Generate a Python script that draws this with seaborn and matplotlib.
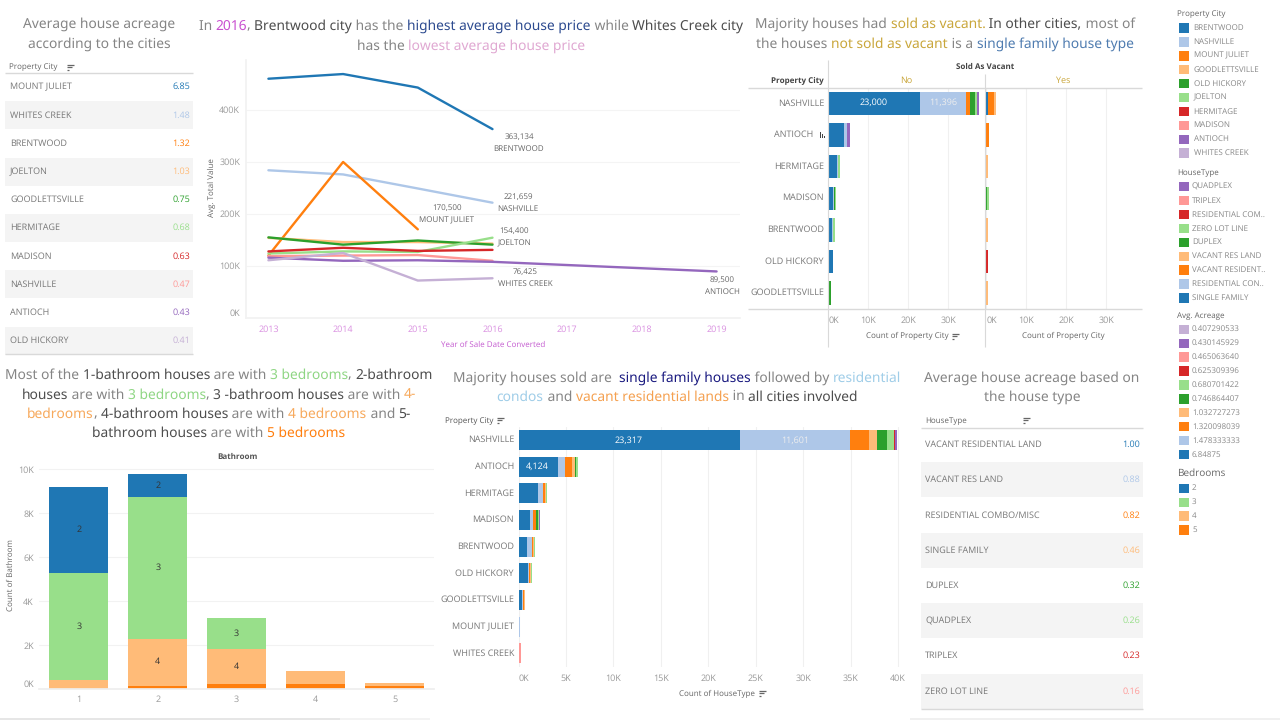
import matplotlib
matplotlib.use("Agg")
import matplotlib.pyplot as plt
from matplotlib.patches import Rectangle
from matplotlib.font_manager import FontProperties
import pandas as pd
import seaborn as sns

# ---------- palette ----------
BLUE, LBLUE, ORANGE, LORANGE = "#1f77b4", "#aec7e8", "#ff7f0e", "#ffbb78"
GREEN, LGREEN, RED, PINK = "#2ca02c", "#98df8a", "#d62728", "#ff9896"
PURPLE, LPURPLE = "#9467bd", "#c5b0d5"
tab10pairs = [BLUE, LBLUE, ORANGE, LORANGE, GREEN, LGREEN, RED, PINK, PURPLE, LPURPLE]
GREY, DARK, TXT = "#858585", "#4d4d4d", "#777777"

# ---------- data: average acreage tables ----------
city_table_names = ["MOUNT JULIET", "WHITES CREEK", "BRENTWOOD", "JOELTON", "GOODLETTSVILLE",
                    "HERMITAGE", "MADISON", "NASHVILLE", "ANTIOCH", "OLD HICKORY"]
city_table_values = ["6.85", "1.48", "1.32", "1.03", "0.75", "0.68", "0.63", "0.47", "0.43", "0.41"]
type_table_names = ["VACANT RESIDENTIAL LAND", "VACANT RES LAND", "RESIDENTIAL COMBO/MISC", "SINGLE FAMILY",
                    "DUPLEX", "QUADPLEX", "TRIPLEX", "ZERO LOT LINE"]
type_table_values = ["1.00", "0.88", "0.82", "0.46", "0.32", "0.26", "0.23", "0.16"]

# ---------- data: average value by year ----------
years = [2013, 2014, 2015, 2016, 2017, 2018, 2019]
N = None
line_brentwood = [460000, 469000, 443000, 363134, N, N, N]
line_nashville = [284000, 276000, 249000, 221659, N, N, N]
line_mtjuliet = [120000, 300000, 170500, N, N, N, N]
line_goodletts = [154000, 146000, 146000, 143000, N, N, N]
line_oldhickory = [155000, 141000, 149000, 141000, N, N, N]
line_joelton = [124000, 128000, 127000, 154400, N, N, N]
line_hermitage = [128000, 135000, 129000, 131000, N, N, N]
line_madison = [119000, 120000, 121000, 110000, N, N, N]
line_antioch = [116000, 110000, 111000, 108000, N, N, 89500]
line_whites = [111000, 125000, 72000, 76425, N, N, N]
line_cities = ["BRENTWOOD", "NASHVILLE", "MOUNT JULIET", "GOODLETTSVILLE", "OLD HICKORY",
               "JOELTON", "HERMITAGE", "MADISON", "ANTIOCH", "WHITES CREEK"]
line_series = [line_brentwood, line_nashville, line_mtjuliet, line_goodletts, line_oldhickory,
               line_joelton, line_hermitage, line_madison, line_antioch, line_whites]
value_ticks = [0, 100000, 200000, 300000, 400000]
value_tick_labels = ["0K", "100K", "200K", "300K", "400K"]

# ---------- data: sold as vacant ----------
vac_cities = ["NASHVILLE", "ANTIOCH", "HERMITAGE", "MADISON", "BRENTWOOD", "OLD HICKORY", "GOODLETTSVILLE"]
type_order = ["SINGLE FAMILY", "RESIDENTIAL CONDO", "VACANT RESIDENTIAL", "VACANT RES LAND", "DUPLEX",
              "ZERO LOT LINE", "RESIDENTIAL COMBO", "TRIPLEX", "QUADPLEX"]
type_colors = [BLUE, LBLUE, ORANGE, LORANGE, GREEN, LGREEN, RED, PINK, PURPLE]
no_counts = {
    "SINGLE FAMILY": [23000, 4000, 2080, 1250, 900, 1150, 250],
    "RESIDENTIAL CONDO": [11396, 580, 320, 200, 350, 50, 20],
    "VACANT RESIDENTIAL": [1000, 0, 0, 0, 0, 100, 0],
    "VACANT RES LAND": [0, 150, 0, 0, 0, 100, 0],
    "DUPLEX": [1250, 0, 0, 200, 0, 50, 280],
    "ZERO LOT LINE": [500, 0, 500, 250, 350, 0, 0],
    "RESIDENTIAL COMBO": [0, 0, 0, 0, 0, 0, 0],
    "TRIPLEX": [0, 0, 0, 0, 0, 0, 0],
    "QUADPLEX": [500, 600, 0, 0, 0, 0, 0],
}
yes_counts = {
    "SINGLE FAMILY": [400, 0, 0, 0, 0, 0, 0],
    "RESIDENTIAL CONDO": [0, 0, 0, 0, 0, 0, 0],
    "VACANT RESIDENTIAL": [1500, 800, 0, 0, 0, 0, 0],
    "VACANT RES LAND": [600, 0, 550, 0, 550, 0, 550],
    "DUPLEX": [0, 0, 0, 150, 0, 0, 0],
    "ZERO LOT LINE": [0, 0, 0, 450, 0, 0, 0],
    "RESIDENTIAL COMBO": [0, 0, 0, 0, 0, 550, 0],
    "TRIPLEX": [0, 0, 0, 0, 0, 0, 0],
    "QUADPLEX": [0, 0, 0, 0, 0, 0, 0],
}
vac_ticks = [0, 10000, 20000, 30000]
vac_tick_labels = ["0K", "10K", "20K", "30K"]

# ---------- data: house type by city ----------
all_cities = ["NASHVILLE", "ANTIOCH", "HERMITAGE", "MADISON", "BRENTWOOD", "OLD HICKORY",
              "GOODLETTSVILLE", "MOUNT JULIET", "WHITES CREEK"]
type_counts = {
    "SINGLE FAMILY": [23317, 4124, 2100, 1230, 910, 1050, 390, 50, 0],
    "RESIDENTIAL CONDO": [11601, 780, 530, 280, 490, 70, 70, 120, 0],
    "VACANT RESIDENTIAL": [2000, 720, 180, 320, 150, 140, 140, 10, 0],
    "VACANT RES LAND": [850, 380, 70, 40, 50, 30, 70, 10, 0],
    "DUPLEX": [1100, 100, 70, 200, 20, 70, 10, 0, 0],
    "ZERO LOT LINE": [650, 180, 70, 40, 70, 10, 0, 0, 0],
    "RESIDENTIAL COMBO": [170, 0, 0, 0, 0, 0, 0, 0, 0],
    "TRIPLEX": [30, 0, 0, 0, 0, 0, 0, 0, 220],
    "QUADPLEX": [140, 0, 0, 110, 0, 0, 0, 0, 0],
}
type_ticks = [0, 5000, 10000, 15000, 20000, 25000, 30000, 35000, 40000]
type_tick_labels = ["0K", "5K", "10K", "15K", "20K", "25K", "30K", "35K", "40K"]

# ---------- data: bathroom / bedroom ----------
bathrooms = [1, 2, 3, 4, 5]
bed_levels = [2, 3, 4, 5]
bed_colors = [BLUE, LGREEN, LORANGE, ORANGE]
bed2 = [3940, 1030, 0, 0, 0]
bed3 = [4850, 6440, 1410, 0, 0]
bed4 = [420, 2130, 1570, 600, 140]
bed5 = [0, 170, 260, 230, 150]
bath_ticks = [0, 2000, 4000, 6000, 8000, 10000]
bath_tick_labels = ["0K", "2K", "4K", "6K", "8K", "10K"]

# ---------- legends ----------
legend_city = line_cities
legend_type = ["QUADPLEX", "TRIPLEX", "RESIDENTIAL COM..", "ZERO LOT LINE", "DUPLEX", "VACANT RES LAND",
               "VACANT RESIDENT..", "RESIDENTIAL CON..", "SINGLE FAMILY"]
legend_type_colors = [PURPLE, PINK, RED, LGREEN, GREEN, LORANGE, ORANGE, LBLUE, BLUE]
legend_acre = ["0.407290533", "0.430145929", "0.465063640", "0.625309396", "0.680701422",
               "0.746864407", "1.032727273", "1.320098039", "1.478333333", "6.84875"]
legend_acre_colors = [LPURPLE, PURPLE, PINK, RED, LGREEN, GREEN, LORANGE, ORANGE, LBLUE, BLUE]

# ---------- setup ----------
sns.set_theme(style="white")
plt.rcParams["font.family"] = ["Open Sans", "DejaVu Sans"]
plt.rcParams["text.hinting"] = "no_hinting"
plt.rcParams["text.hinting_factor"] = 1
W, H = 1280, 720
fig = plt.figure(figsize=(12.8, 7.2), dpi=100, facecolor="white")


def px_axes(l, t, r, b):
    ax = fig.add_axes([l / W, 1 - b / H, (r - l) / W, (b - t) / H])
    ax.set_facecolor("none")
    for s in ax.spines.values():
        s.set_visible(False)
    return ax


ov = fig.add_axes([0, 0, 1, 1], zorder=10)
ov.set_xlim(0, W)
ov.set_ylim(H, 0)
ov.axis("off")
ov.patch.set_alpha(0)
renderer = fig.canvas.get_renderer()
LABEL = 6.2
AXIS_TITLE = 5.6
TITLE = 9.95


def put(x, y, s, color=TXT, size=LABEL, ha="left", **kw):
    return ov.text(x, y, s, color=color, fontsize=size, ha=ha, va="center", **kw)


def text_w(s, fp):
    w1 = renderer.get_text_width_height_descent(s + "|", fp, False)[0]
    w0 = renderer.get_text_width_height_descent("|", fp, False)[0]
    return w1 - w0


def title_line(cx, y, runs, size=TITLE):
    fp = FontProperties(family="Noto Sans", size=size, weight=500)
    full = "".join(r[0] for r in runs)
    x = cx - text_w(full, fp) / 2
    prefix = ""
    for s, c in runs:
        ov.text(x + text_w(prefix, fp), y + 4.5, s, color=c, fontproperties=fp, ha="left", va="baseline")
        prefix += s


def sort_icon(x, y, color="#666666"):
    for i, w in enumerate([7, 5, 2]):
        ov.plot([x, x + w], [y - 2.5 + i * 2.5] * 2, color=color, lw=0.9, solid_capstyle="butt")


def hline(x0, x1, y, color="#d9d9d9", lw=1.0):
    ov.plot([x0, x1], [y, y], color=color, lw=lw, solid_capstyle="butt")


def vline(x, y0, y1, color="#d9d9d9", lw=0.8):
    ov.plot([x, x], [y0, y1], color=color, lw=lw, solid_capstyle="butt")


def table(names, values, x0, x1, y0, step, name_x, val_x, line_y, end_y):
    hline(x0, x1, line_y)
    hline(x0, x1, end_y)
    for i, (n, v) in enumerate(zip(names, values)):
        yc = y0 + i * step
        if i % 2 == 1:
            ov.add_patch(Rectangle((x0, yc - step / 2), x1 - x0, step, fc="#f4f4f4", ec="none", zorder=0))
        put(name_x, yc, n)
        put(val_x, yc, v, color=tab10pairs[i], ha="right")


def stack_h(ax, cities, counts, shrink):
    rows = [{"pos": i, "type": t, "n": v} for t in type_order for i, v in enumerate(counts[t])]
    df = pd.DataFrame(rows)
    # histplot stacks hue levels from the last to the first
    sns.histplot(data=df, y="pos", weights="n", hue="type", hue_order=type_order[::-1],
                 palette=dict(zip(type_order, type_colors)), multiple="stack", discrete=True,
                 shrink=shrink, alpha=1, linewidth=0, legend=False, ax=ax)
    ax.set_ylim(len(cities) - 0.5, -0.5)
    ax.set_yticks([])
    ax.set_xlabel("")
    ax.set_ylabel("")


def style_x(ax, ticks, labels, first_left=True):
    ax.set_xticks(ticks)
    ax.set_xticklabels(labels)
    ax.tick_params(axis="x", length=0, labelsize=LABEL, labelcolor="#999999", pad=5)
    if first_left:
        ax.get_xticklabels()[0].set_ha("left")
    ax.grid(axis="x", color="#f0f0f0", lw=0.8)
    ax.set_axisbelow(True)


# ---------- table 1 ----------
title_line(99, 23, [("Average house acreage", GREY)])
title_line(99, 43, [("according to the cities", GREY)])
put(9, 67, "Property City", color="#666666", size=AXIS_TITLE)
sort_icon(67, 67)
table(city_table_names, city_table_values, 5, 193, 87, 28.2, 10, 190, 73, 354)

# ---------- line chart ----------
title_line(471, 25, [("In ", GREY), ("2016", "#c94fd0"), (", ", GREY), ("Brentwood city", DARK), (" has the ", GREY),
                     ("highest average house price", "#2c4a8f"), (" while ", GREY), ("Whites Creek city", DARK)])
title_line(471, 45, [("has the ", GREY), ("lowest average house price", "#e0a8d2")])
ax = px_axes(245.6, 60, 740, 318)
line_df = pd.DataFrame([{"year": y, "city": c, "value": v}
                        for c, s in zip(line_cities, line_series) for y, v in zip(years, s) if v is not None])
sns.lineplot(data=line_df, x="year", y="value", hue="city", hue_order=line_cities,
             palette=dict(zip(line_cities, tab10pairs)), linewidth=1.7, errorbar=None, legend=False, ax=ax)
ax.set_xlim(2013 - 22.8 / 74.7, 2013 + (740 - 268.4) / 74.7)
ax.set_ylim(0, 496000)
ax.set_xticks(years)
ax.set_yticks(value_ticks)
ax.set_yticklabels(value_tick_labels)
ax.get_yticklabels()[0].set_va("bottom")
ax.tick_params(axis="x", length=0, labelsize=LABEL, labelcolor="#d98fe0", pad=5)
ax.tick_params(axis="y", length=0, labelsize=LABEL, labelcolor="#999999", pad=4)
ax.grid(axis="y", color="#f4f4f4", lw=0.8)
ax.set_xlabel("")
ax.set_ylabel("")
ax.spines["left"].set_visible(True)
ax.spines["left"].set_color("#f2f2f2")
ax.spines["bottom"].set_visible(True)
ax.spines["bottom"].set_color("#f2f2f2")
put(493, 345, "Year of Sale Date Converted", color="#c45bd0", ha="center", size=AXIS_TITLE)
put(212, 188, "Avg. Total Value", color="#666666", ha="center", rotation=90, size=AXIS_TITLE)
end_labels = [("363,134", "BRENTWOOD", 519, 137), ("221,659", "NASHVILLE", 518, 197),
              ("170,500", "MOUNT JULIET", 447, 208), ("154,400", "JOELTON", 514, 231),
              ("76,425", "WHITES CREEK", 525, 272), ("89,500", "ANTIOCH", 722, 280)]
for val, name, x, y in end_labels:
    put(x, y, val, color="#666666", ha="center", size=5.9)
    put(x, y + 12, name, color="#666666", ha="center", size=5.9)

# ---------- sold as vacant ----------
title_line(945, 23.5, [("Majority houses had ", GREY), ("sold as vacant.", "#c9a63a"), (" In other cities,", DARK), (" most of", GREY)])
title_line(945, 43, [("the houses ", GREY), ("not sold as vacant", "#c9a63a"), (" is a ", GREY), ("single family house type", "#4f7cb0")])
top_t, top_b = 87.7, 309
ax_no = px_axes(828.3, top_t, 985.3, top_b)
stack_h(ax_no, vac_cities, no_counts, 0.74)
ax_no.set_xlim(0, 157 / 40 * 10000)
style_x(ax_no, vac_ticks, vac_tick_labels)
ax_yes = px_axes(986.2, top_t, 1141.7, top_b)
stack_h(ax_yes, vac_cities, yes_counts, 0.74)
ax_yes.set_xlim(0, 155.5 / 40 * 10000)
style_x(ax_yes, vac_ticks, vac_tick_labels)
hline(748, 1142, top_t)
hline(748, 1142, top_b)
vline(828.3, 60, 347)
vline(985.3, 74, 347)
for i, c in enumerate(vac_cities):
    put(813 if c == "ANTIOCH" else 824, 103.3 + i * 31.57, c, ha="right")
put(985, 67, "Sold As Vacant", color="#444444", ha="center", fontweight="bold", size=AXIS_TITLE)
put(824, 81, "Property City", color="#444444", ha="right", fontweight="bold", size=AXIS_TITLE)
put(906.7, 81, "No", color="#c9a63a", ha="center")
put(1063, 81, "Yes", color="#c9a63a", ha="center")
put(874, 103, "23,000", color="white", ha="center")
put(943, 103, "11,396", color="#eeeeee", ha="center")
put(907, 336, "Count of Property City", color="#666666", ha="center", size=AXIS_TITLE)
sort_icon(952, 336)
put(1063, 336, "Count of Property City", color="#666666", ha="center", size=AXIS_TITLE)
for i, hh in enumerate([6, 4, 2]):
    ov.add_patch(Rectangle((819.5 + i * 2, 138 - hh), 1.1, hh, fc="#444444", ec="none"))

# ---------- right legends ----------
def legend(title, labels, colors, y_title, y0, lab_x, step=13.9, tsize=AXIS_TITLE):
    put(1177, y_title, title, color="#666666", size=tsize)
    for i, (l, c) in enumerate(zip(labels, colors)):
        y = y0 + i * step
        ov.add_patch(Rectangle((1179.3, y - 4.7), 9.4, 9.4, fc=c, ec="none"))
        put(lab_x, y, l, color="#888888", size=5.9)


legend("Property City", legend_city, tab10pairs, 14.5, 28, 1193.7)
legend("HouseType", legend_type, legend_type_colors, 173, 186.7, 1192)
legend("Avg. Acreage", legend_acre, legend_acre_colors, 316.3, 329.3, 1192)
legend("Bedrooms", [str(b) for b in bed_levels], bed_colors, 473.3, 488.3, 1192, tsize=7.5)

# ---------- bathroom chart ----------
title_line(219, 374, [("Most of the ", GREY), ("1-bathroom houses", DARK), (" are with ", GREY), ("3 bedrooms", "#8fd684"), (", ", GREY), ("2-bathroom", DARK)])
title_line(219, 394, [("houses", DARK), (" are with ", GREY), ("3 bedrooms", "#8fd684"), (", ", GREY), ("3 -bathroom houses", DARK), (" are with ", GREY), ("4-", "#f7a95c")])
title_line(219, 413, [("bedrooms", "#f7a95c"), (", ", GREY), ("4-bathroom houses", DARK), (" are with ", GREY), ("4 bedrooms", "#f7a95c"), (" and ", GREY), ("5-", DARK)])
title_line(219, 432, [("bathroom houses", DARK), (" are with ", GREY), ("5 bedrooms", ORANGE)])
ax = px_axes(39.3, 464, 434, 689.3)
bed_df = pd.DataFrame([{"bath": b, "bed": lvl, "n": v}
                       for lvl, s in zip(bed_levels, [bed2, bed3, bed4, bed5])
                       for b, v in zip(bathrooms, s)])
sns.histplot(data=bed_df, x="bath", weights="n", hue="bed", hue_order=bed_levels,
             palette=dict(zip(bed_levels, bed_colors)), multiple="stack", discrete=True,
             shrink=0.75, alpha=1, linewidth=0, legend=False, ax=ax)
ax.set_xlim(0.5, 5.5)
ax.set_ylim(0, (689.3 - 464) / 22 * 1000)
ax.set_xticks(bathrooms)
ax.set_yticks(bath_ticks)
ax.set_yticklabels(bath_tick_labels)
ax.get_yticklabels()[0].set_va("bottom")
ax.tick_params(axis="both", length=0, labelsize=LABEL, labelcolor="#999999", pad=4)
ax.grid(axis="y", color="#f2f2f2", lw=0.8)
ax.set_axisbelow(True)
ax.set_xlabel("")
ax.set_ylabel("")
ax.spines["bottom"].set_visible(True)
ax.spines["bottom"].set_color("#eeeeee")
put(237, 457, "Bathroom", color="#555555", ha="center", fontweight="bold", size=AXIS_TITLE)
put(11, 575, "Count of Bathroom", color="#666666", ha="center", rotation=90, size=AXIS_TITLE)
# label the segments big enough to carry a bedroom label
for b_idx, b in enumerate(bathrooms):
    base = 0
    for lvl, s in zip(bed_levels[::-1], [bed5, bed4, bed3, bed2]):
        v = s[b_idx]
        if v >= 1000:
            ax.text(b, base + v / 2, str(lvl), ha="center", va="center", fontsize=6.8, color="#333333")
        base += v

# ---------- house type by city ----------
title_line(677, 377, [("Majority houses sold are  ", GREY), ("single family houses", "#1a1a80"), (" followed by ", GREY), ("residential", "#9fcde8")])
title_line(677, 396, [("condos", "#9fcde8"), (" and ", GREY), ("vacant residential lands", "#f5a04f"), (" in ", GREY), ("all cities involved", DARK)])
bar_t, bar_b = 426.7, 666.7
ax = px_axes(518.5, bar_t, 908, bar_b)
stack_h(ax, all_cities, type_counts, 0.75)
ax.set_xlim(0, (908 - 518.5) / 47.45 * 5000)
style_x(ax, type_ticks, type_tick_labels)
for i, c in enumerate(all_cities):
    put(514, 440 + i * 26.66, c, ha="right")
put(445, 421, "Property City", color="#555555", size=AXIS_TITLE)
sort_icon(497, 420)
put(629, 440, "23,317", color="white", ha="center")
put(795, 440, "11,601", color="#eeeeee", ha="center")
put(537.5, 466.6, "4,124", color="white", ha="center")
put(717, 694, "Count of HouseType", color="#666666", ha="center", size=AXIS_TITLE)
sort_icon(759, 693)

# ---------- table 2 ----------
title_line(1032, 377, [("Average house acreage based on", GREY)])
title_line(1032, 396, [("the house type", GREY)])
put(925, 421, "HouseType", color="#666666", size=AXIS_TITLE)
sort_icon(1023, 420)
table(type_table_names, type_table_values, 921, 1143, 444.7, 35.2, 925, 1140, 427.7, 709)

ov.add_patch(Rectangle((0, 717.5), 340, 2.5, fc="#e6e6e6", ec="none"))
ov.add_patch(Rectangle((340, 717.5), 90, 2.5, fc="#f3f3f3", ec="none"))
ov.add_patch(Rectangle((910, 718), 370, 2, fc="#f0f0f0", ec="none"))

fig.savefig("out.png", dpi=100, facecolor="white")
